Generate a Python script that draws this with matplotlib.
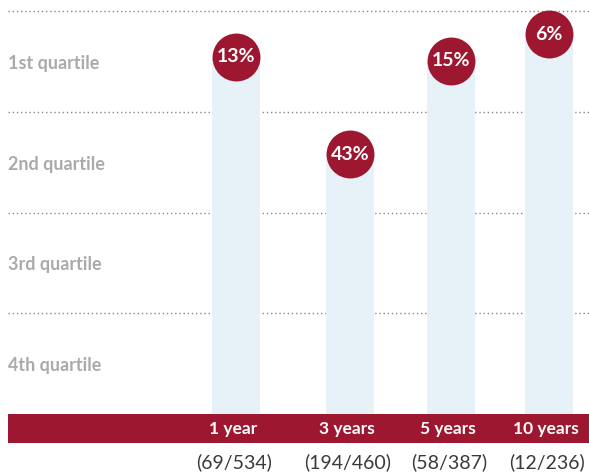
import matplotlib.pyplot as plt

# data
periods = ['1 year', '3 years', '5 years', '10 years']
pct_labels = ['13%', '43%', '15%', '6%']
counts = ['(69/534)', '(194/460)', '(58/387)', '(12/236)']
# average quartile position, 0 = bottom of 4th quartile, 4 = top of 1st
position = [3.55, 2.58, 3.51, 3.77]
quartiles = ['1st quartile', '2nd quartile', '3rd quartile', '4th quartile']

RED = '#9d1730'
BLUE = '#e6f1f8'
GREY = '#aaaaaa'

W, H = 589, 473
unit = 100.7          # pixels per quartile
base = 414            # pixel row of the band top
xs = [236, 350, 451, 549]

fig = plt.figure(figsize=(W / 100, H / 100), dpi=100)
ax = fig.add_axes([0, 0, 1, 1])
ax.set_xlim(0, W)
ax.set_ylim(-(H - base) / unit, base / unit)
ax.axis('off')

# dotted quartile boundaries
for q in range(1, 5):
    ax.plot([8, W], [q, q], color='#888888', lw=1, ls=(0, (1, 2)), zorder=1)

# quartile labels
for i, name in enumerate(quartiles):
    ax.text(8, 3.48 - i, name, ha='left', va='center', fontsize=13,
            fontweight='bold', color=GREY, family='Lato')

# bars
ax.bar(xs, position, width=48, bottom=0, color=BLUE, zorder=2)

# circles with percentages
ax.scatter(xs, position, s=1190, color=RED, zorder=3, linewidths=0)
for x, y, t in zip(xs, position, pct_labels):
    ax.text(x, y, t, ha='center', va='center', fontsize=14,
            fontweight='bold', color='white', family='Lato', zorder=4)

# red band
band_h = (443 - base) / unit
ax.fill_between([8, W], -band_h, 0, color=RED, zorder=2, linewidth=0)
for x, p in zip(xs, periods):
    ax.text(x - 3, -band_h / 2, p, ha='center', va='center', fontsize=12.5,
            fontweight='bold', color='white', family='Lato', zorder=4)

# counts below
for x, c in zip(xs, counts):
    ax.text(x - 2, -(462 - base) / unit, c, ha='center', va='center',
            fontsize=14, color='#3a3a3a', family='Lato', zorder=4)

fig.savefig('out.png', dpi=100)
